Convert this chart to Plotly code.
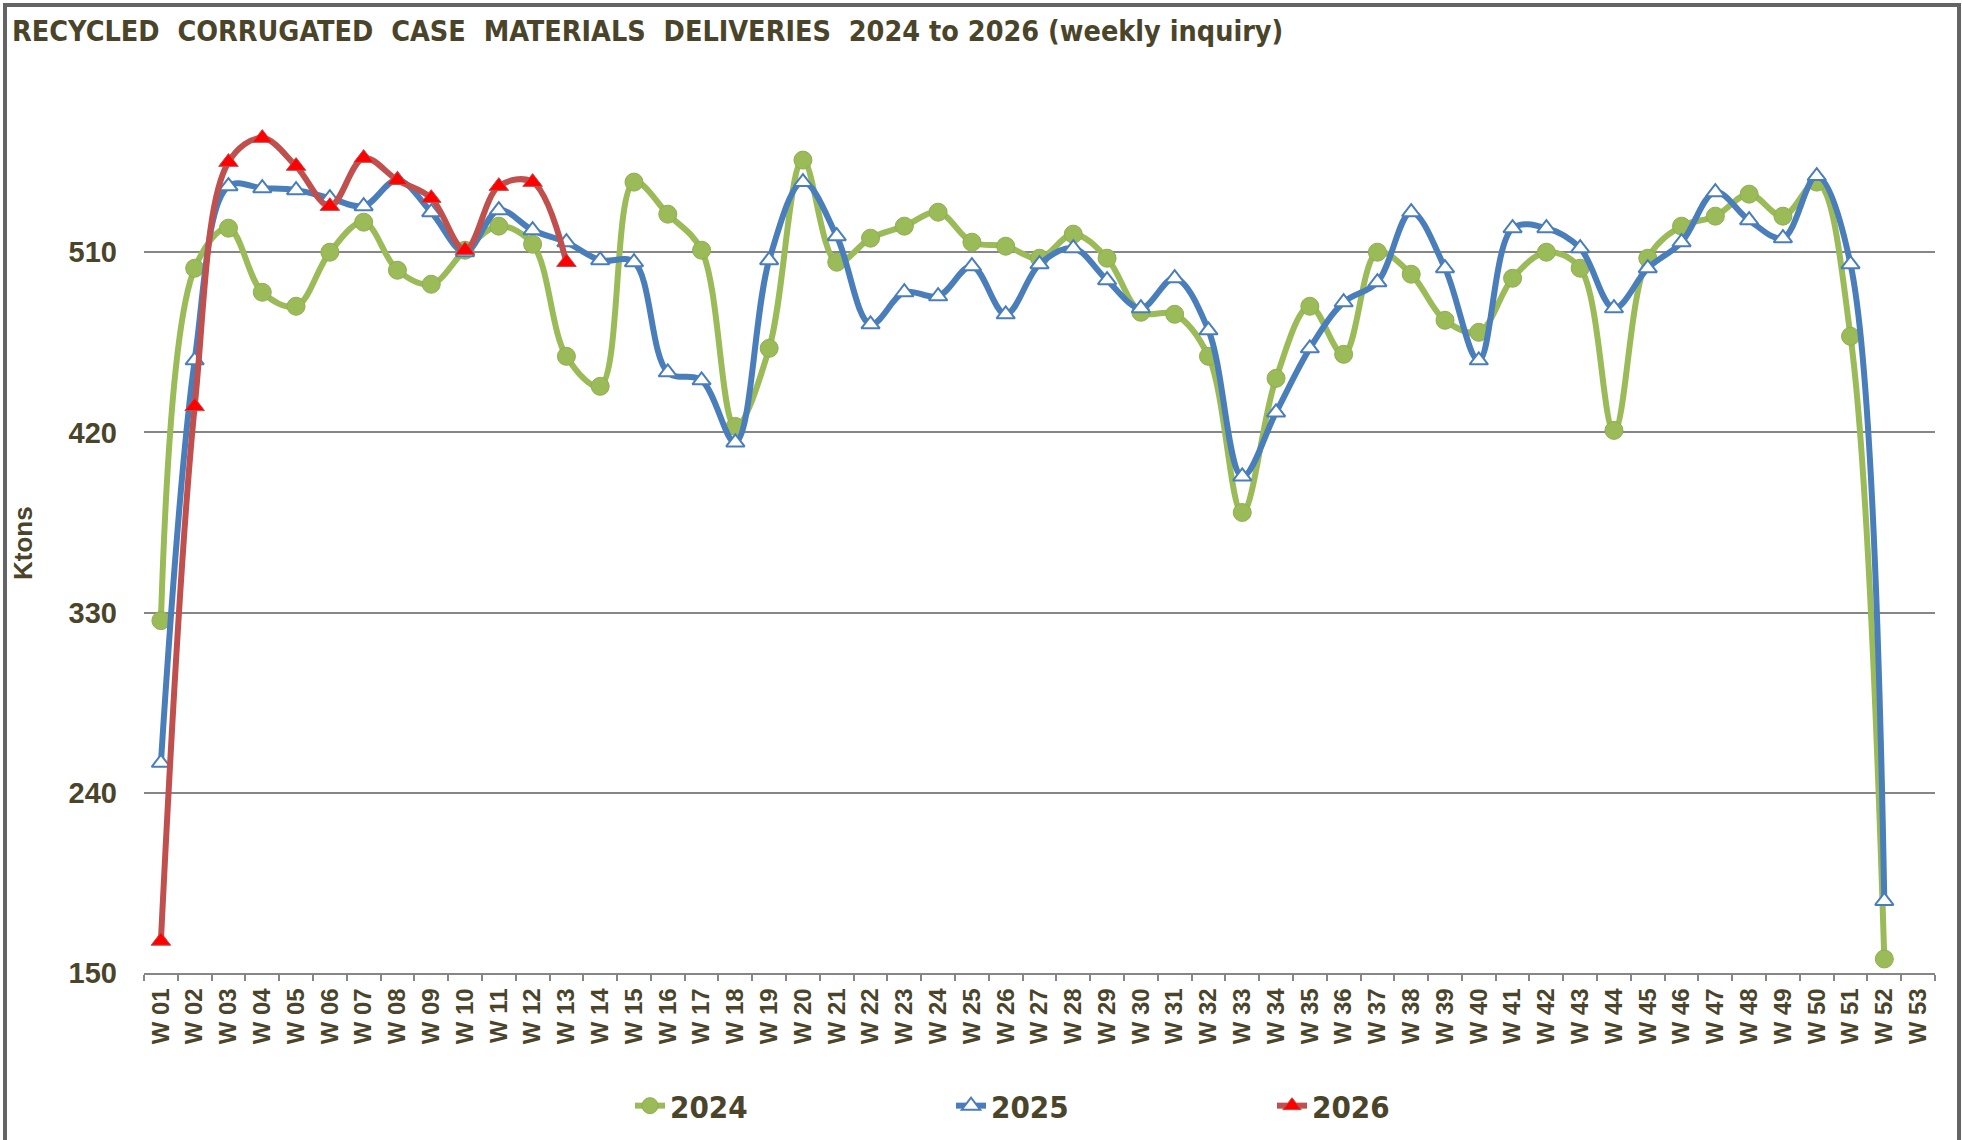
import plotly.graph_objects as go

weeks = [f"W {i:02d}" for i in range(1, 54)]

v2024 = [326, 502, 522, 490, 483, 510, 525, 501, 494, 511, 523, 514, 458, 443,
         545, 529, 511, 423, 462, 556, 505, 517, 523, 530, 515, 513, 507, 519,
         507, 480, 479, 458, 380, 447, 483, 459, 510, 499, 476, 470, 497, 510,
         502, 421, 507, 523, 528, 539, 528, 545, 468, 157]

v2025 = [255, 456, 543, 542, 541, 537, 533, 546, 530, 510, 531, 521, 515, 506,
         505, 450, 446, 415, 506, 545, 518, 474, 490, 488, 503, 479, 504, 512,
         496, 482, 497, 471, 398, 430, 462, 485, 495, 530, 502, 456, 522, 522,
         512, 482, 502, 515, 540, 526, 517, 548, 504, 186]

v2026 = [166, 433, 555, 567, 553, 533, 557, 546, 537, 511, 543, 545, 505]

y_ticks = [150, 240, 330, 420, 510]

TXT = "#4A452A"
W, H = 1962, 1140
L, R, T, B = 144, 27, 72, 167
pw, ph = W - L - R, H - T - B

def px_x(p):
    return (p - L) / pw

def px_y(p):
    return (H - B - p) / ph

fig = go.Figure()
fig.add_trace(go.Scatter(
    x=weeks[:len(v2024)], y=v2024, name="2024", mode="lines+markers",
    line=dict(color="#9BBB59", width=6, shape="spline", smoothing=1),
    marker=dict(symbol="circle", size=18, color="#9BBB59",
                line=dict(color="#8FAE50", width=1))))
fig.add_trace(go.Scatter(
    x=weeks[:len(v2025)], y=v2025, name="2025", mode="lines+markers",
    line=dict(color="#4A7EBB", width=6, shape="spline", smoothing=1),
    marker=dict(symbol="triangle-up", size=16, color="white",
                line=dict(color="#4A7EBB", width=2))))
fig.add_trace(go.Scatter(
    x=weeks[:len(v2026)], y=v2026, name="2026", mode="lines+markers",
    line=dict(color="#C0504D", width=6, shape="spline", smoothing=1),
    marker=dict(symbol="triangle-up", size=17, color="#FF0000",
                line=dict(color="#C0504D", width=1))))

fig.update_layout(
    width=W, height=H,
    margin=dict(l=L, r=R, t=T, b=B, autoexpand=False),
    paper_bgcolor="white", plot_bgcolor="white",
    title=dict(text="RECYCLED  CORRUGATED  CASE  MATERIALS  DELIVERIES  2024 to 2026 (weekly inquiry)",
               x=12 / W, xanchor="left", xref="container",
               y=1 - 31 / H, yanchor="middle", yref="container",
               font=dict(family="Liberation Sans Narrow, Arial Narrow, DejaVu Sans Condensed",
                         size=28.5, color=TXT, weight="bold")),
    xaxis=dict(type="category", categoryorder="array", categoryarray=weeks,
               range=[-0.5, 52.5], tickangle=-90, tickson="boundaries",
               ticks="outside", ticklen=6, tickcolor="#868686", tickwidth=1.5,
               showline=True, linecolor="#868686", linewidth=1.5,
               showgrid=False, ticklabelstandoff=4,
               tickfont=dict(family="Liberation Sans, Arial", size=24,
                             color=TXT, weight="bold")),
    yaxis=dict(range=[150, 600], tickvals=y_ticks, showgrid=True,
               gridcolor="#868686", gridwidth=1.5, zeroline=False,
               showline=False, ticks="", ticklabelstandoff=26,
               tickfont=dict(family="Liberation Sans, Arial", size=29,
                             color=TXT, weight="bold")),
    legend=dict(orientation="h", x=px_x(630), xanchor="left",
                y=px_y(1106), yanchor="middle",
                entrywidth=276, entrywidthmode="pixels",
                font=dict(family="Liberation Sans Narrow, Arial Narrow, DejaVu Sans Condensed",
                          size=31, color=TXT, weight="bold"),
                bgcolor="rgba(0,0,0,0)"),
    showlegend=True,
)

fig.add_annotation(text="Ktons", xref="paper", yref="paper",
                   x=px_x(23), y=px_y(543), xanchor="center", yanchor="middle",
                   textangle=-90, showarrow=False,
                   font=dict(family="Liberation Sans, Arial", size=26,
                             color=TXT, weight="bold"))

fig.add_shape(type="rect", xref="paper", yref="paper",
              x0=px_x(5), x1=px_x(1959), y0=px_y(1150), y1=px_y(5),
              line=dict(color="#646464", width=4), fillcolor="rgba(0,0,0,0)",
              layer="below")

fig.write_html("out.html",
               config={"displayModeBar": False},
               post_script="document.body.style.margin='0';document.body.style.overflow='hidden';")
